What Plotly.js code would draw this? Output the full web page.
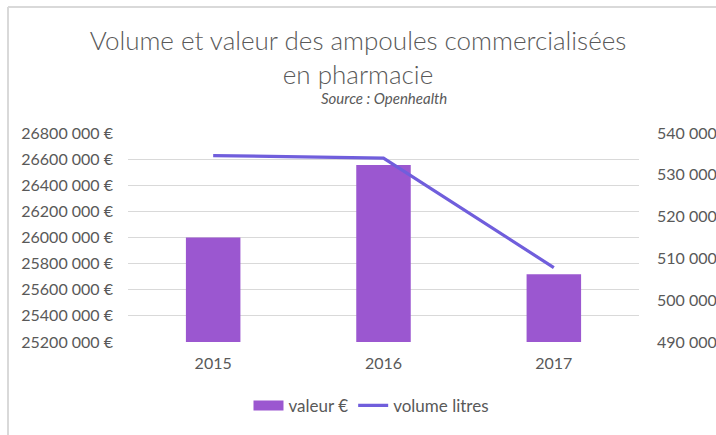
<!DOCTYPE html>
<html>
<head>
<meta charset="utf-8">
<script src="https://cdn.plot.ly/plotly-3.0.1.min.js"></script>
<style>html,body{margin:0;padding:0;background:#fff;}#chart{width:716px;height:435px;}</style>
</head>
<body>
<div id="chart"></div>
<script>
const years = ['2015', '2016', '2017'];
const valeurEuro = [26000000, 26555000, 25718000];
const volumeLitres = [534600, 534000, 507800];
const leftTickVals = [25200000, 25400000, 25600000, 25800000, 26000000, 26200000, 26400000, 26600000, 26800000];
const leftTickText = ['25200 000 €', '25400 000 €', '25600 000 €', '25800 000 €', '26000 000 €', '26200 000 €', '26400 000 €', '26600 000 €', '26800 000 €'];
const rightTickVals = [490000, 500000, 510000, 520000, 530000, 540000];
const rightTickText = ['490 000', '500 000', '510 000', '520 000', '530 000', '540 000'];
const noValues = [null, null, null];

const txt = '#595959';
const fontFam = 'Lato, "Open Sans", sans-serif';
const barColor = '#9b57d0';
const lineColor = '#705edc';

const traces = [
  {
    type: 'bar', name: 'valeur €', x: years, y: valeurEuro,
    marker: {color: barColor}, width: 0.32, yaxis: 'y', showlegend: false
  },
  {
    type: 'scatter', mode: 'lines', name: 'valeur €', x: years, y: noValues,
    line: {color: barColor, width: 11}, yaxis: 'y', showlegend: true, hoverinfo: 'skip'
  },
  {
    type: 'scatter', mode: 'lines', name: 'volume litres', x: years, y: volumeLitres,
    line: {color: lineColor, width: 3.2}, yaxis: 'y2'
  }
];

const layout = {
  width: 716, height: 435,
  margin: {l: 128, r: 77, t: 133, b: 92},
  paper_bgcolor: '#fff', plot_bgcolor: '#fff',
  font: {family: fontFam, color: txt, size: 16},
  title: {
    text: 'Volume et valeur des ampoules commercialisées<br>en pharmacie',
    font: {family: fontFam, size: 26, color: txt, weight: 300},
    x: 0.5, xanchor: 'center', y: 1 - 50/435, yanchor: 'top'
  },
  showlegend: true,
  legend: {
    orientation: 'h', x: 0.4765, xanchor: 'center', y: -0.2996, yanchor: 'middle',
    font: {size: 17, color: txt}, traceorder: 'normal'
  },
  xaxis: {
    type: 'category', showgrid: false, zeroline: false, showline: false,
    ticks: '', tickfont: {size: 16, color: txt}, ticklabelstandoff: 10
  },
  yaxis: {
    range: [25200000, 26800000], tickmode: 'array', tickvals: leftTickVals, ticktext: leftTickText,
    showgrid: true, gridcolor: '#d9d9d9', gridwidth: 1, zeroline: false, showline: false,
    ticks: '', tickfont: {size: 16, color: txt}, ticklabelstandoff: 14
  },
  yaxis2: {
    range: [490000, 540000], overlaying: 'y', side: 'right', tickmode: 'array',
    tickvals: rightTickVals, ticktext: rightTickText,
    showgrid: false, zeroline: false, showline: false,
    ticks: '', tickfont: {size: 16, color: txt}, ticklabelstandoff: 17
  },
  annotations: [
    {
      text: '<i>Source : Openhealth</i>', xref: 'paper', yref: 'paper',
      x: 0.5, y: (343 - 97) / 210.3, xanchor: 'center', yanchor: 'middle',
      showarrow: false, font: {family: fontFam, size: 15, color: txt}
    }
  ],
  shapes: [
    {type: 'line', xref: 'paper', yref: 'paper', x0: (8 - 128) / 511, x1: 1.2, y0: (343 - 6) / 210.3, y1: (343 - 6) / 210.3, line: {color: '#d9d9d9', width: 2}},
    {type: 'line', xref: 'paper', yref: 'paper', x0: (8 - 128) / 511, x1: (8 - 128) / 511, y0: (343 - 6) / 210.3, y1: -0.6, line: {color: '#d9d9d9', width: 2}}
  ]
};

Plotly.newPlot('chart', traces, layout, {displayModeBar: false, staticPlot: true});
</script>
</body>
</html>
